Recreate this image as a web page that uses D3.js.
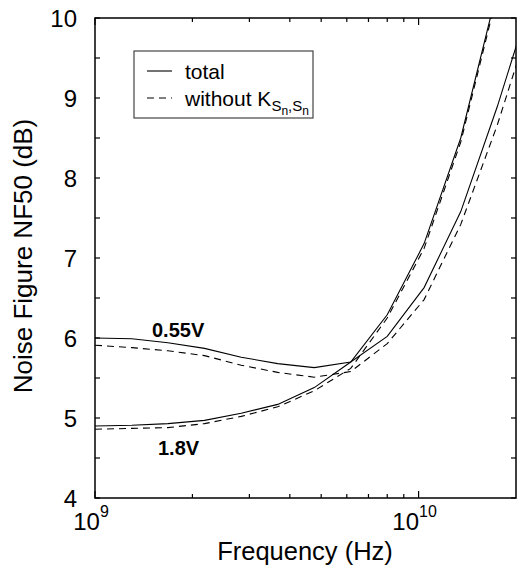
<!DOCTYPE html>
<html>
  <head>
    <meta charset="utf-8">
    <title>Noise Figure vs Frequency</title>
    <style>
      body { margin: 0; background: #fff; }
      text { font-family: "Liberation Sans", Arial, sans-serif; fill: #000; }
      .frame { fill: none; stroke: #000; stroke-width: 1.5; }
      .tick { stroke: #000; stroke-width: 1.2; }
      .curve { fill: none; stroke: #000; stroke-width: 1.1; }
      .dashed { stroke-dasharray: 7,5; }
    </style>
  </head>
  <body>
    <div class="chart"></div>
    <script src="https://cdn.jsdelivr.net/npm/d3@7"></script>
    <script>
      // frequencies (Hz) where the curves were computed
      const freqs = [1e9, 1.3e9, 1.68e9, 2.18e9, 2.83e9, 3.67e9, 4.76e9, 6.17e9, 8.0e9, 1.04e10, 1.35e10, 1.75e10, 2.27e10];

      // NF50 (dB), Vdd = 0.55V
      const total055   = [6.00, 5.99, 5.94, 5.87, 5.76, 5.68, 5.63, 5.70, 6.02, 6.63, 7.58, 8.89, 10.35];
      const without055 = [5.91, 5.88, 5.84, 5.78, 5.66, 5.57, 5.51, 5.58, 5.93, 6.48, 7.42, 8.66, 10.10];
      // NF50 (dB), Vdd = 1.8V
      const total18    = [4.90, 4.91, 4.93, 4.97, 5.06, 5.17, 5.38, 5.70, 6.29, 7.18, 8.50, 10.35, 12.50];
      const without18  = [4.86, 4.87, 4.88, 4.93, 5.02, 5.14, 5.34, 5.62, 6.25, 7.12, 8.45, 10.30, 12.40];

      const yTicks = [4, 5, 6, 7, 8, 9, 10];
      const xMajor = [1e9, 1e10];

      const W = 517, H = 573;
      const margin = { top: 18, right: 1, bottom: 75, left: 95 };

      const x = d3.scaleLog()
        .domain([1e9, 2e10])
        .range([margin.left, W - margin.right]);
      const y = d3.scaleLinear()
        .domain([4, 10])
        .range([H - margin.bottom, margin.top]);

      const svg = d3.select(".chart").append("svg")
        .attr("width", W)
        .attr("height", H);

      svg.append("defs").append("clipPath").attr("id", "plot")
        .append("rect")
        .attr("x", x.range()[0]).attr("y", y.range()[1])
        .attr("width", x.range()[1] - x.range()[0])
        .attr("height", y.range()[0] - y.range()[1]);

      const x0 = x.range()[0], x1 = x.range()[1];
      const yb = y.range()[0], yt = y.range()[1];

      // x ticks (inward, top and bottom)
      const xMinor = x.ticks().filter(d => xMajor.indexOf(d) < 0 && d > 1e9 && d < 2e10);
      const xt = svg.append("g");
      xMajor.concat(xMinor).forEach(d => {
        const len = xMajor.indexOf(d) >= 0 ? 7 : 4;
        xt.append("line").attr("class", "tick")
          .attr("x1", x(d)).attr("x2", x(d)).attr("y1", yb).attr("y2", yb - len);
        xt.append("line").attr("class", "tick")
          .attr("x1", x(d)).attr("x2", x(d)).attr("y1", yt).attr("y2", yt + len);
      });

      // y ticks (inward, left and right), minor every 0.5
      const yt2 = svg.append("g");
      d3.range(4, 10.01, 0.5).forEach(d => {
        const len = 5;
        yt2.append("line").attr("class", "tick")
          .attr("x1", x0).attr("x2", x0 + len).attr("y1", y(d)).attr("y2", y(d));
        yt2.append("line").attr("class", "tick")
          .attr("x1", x1).attr("x2", x1 - len).attr("y1", y(d)).attr("y2", y(d));
      });

      // y tick labels
      svg.append("g").selectAll("text")
        .data(yTicks)
        .enter().append("text")
        .attr("x", 77)
        .attr("y", d => y(d))
        .attr("dy", "0.36em")
        .attr("text-anchor", "end")
        .style("font-size", "24px")
        .text(d => d);

      // x tick labels 10^n
      xMajor.forEach(d => {
        const t = svg.append("text")
          .attr("x", x(d) - 4)
          .attr("y", 530)
          .attr("text-anchor", "middle")
          .style("font-size", "24px");
        t.append("tspan").text("10");
        t.append("tspan").attr("dy", -13).style("font-size", "16px")
          .text(Math.round(Math.log10(d)));
      });

      // frame
      svg.append("rect").attr("class", "frame")
        .attr("x", x0).attr("y", yt)
        .attr("width", x1 - x0).attr("height", yb - yt);

      // curves
      const line = d3.line()
        .x((d, i) => x(freqs[i]))
        .y(d => y(d));

      const curves = svg.append("g").attr("clip-path", "url(#plot)");
      [[total055, false], [without055, true], [total18, false], [without18, true]]
        .forEach(([vals, dash]) => {
          curves.append("path")
            .datum(vals)
            .attr("class", dash ? "curve dashed" : "curve")
            .attr("d", line);
        });

      // curve labels
      svg.append("text").attr("x", 152).attr("y", 337)
        .style("font-size", "20px").style("font-weight", "bold").text("0.55V");
      svg.append("text").attr("x", 158).attr("y", 455)
        .style("font-size", "20px").style("font-weight", "bold").text("1.8V");

      // legend
      const lg = svg.append("g");
      lg.append("rect")
        .attr("x", 134).attr("y", 51).attr("width", 179).attr("height", 67)
        .attr("fill", "#fff").attr("stroke", "#444").attr("stroke-width", 1.2);
      lg.append("line").attr("class", "curve")
        .attr("x1", 147).attr("x2", 172).attr("y1", 71).attr("y2", 71);
      lg.append("line").attr("class", "curve dashed")
        .attr("x1", 147).attr("x2", 172).attr("y1", 98).attr("y2", 98);
      lg.append("text").attr("x", 185).attr("y", 79)
        .style("font-size", "21px").text("total");
      const wt = lg.append("text").attr("x", 185).attr("y", 106)
        .style("font-size", "21px");
      wt.append("tspan").text("without K");
      wt.append("tspan").attr("dy", 5).style("font-size", "15px").text("S");
      wt.append("tspan").attr("dy", 4).style("font-size", "12px").text("n");
      wt.append("tspan").attr("dy", -4).style("font-size", "15px").text(",S");
      wt.append("tspan").attr("dy", 4).style("font-size", "12px").text("n");

      // axis titles
      svg.append("text")
        .attr("x", 305)
        .attr("y", 560)
        .attr("text-anchor", "middle")
        .style("font-size", "25.5px")
        .text("Frequency (Hz)");
      svg.append("text")
        .attr("transform", "translate(32,256) rotate(-90)")
        .attr("text-anchor", "middle")
        .style("font-size", "26px")
        .text("Noise Figure NF50 (dB)");
    </script>
  </body>
</html>
